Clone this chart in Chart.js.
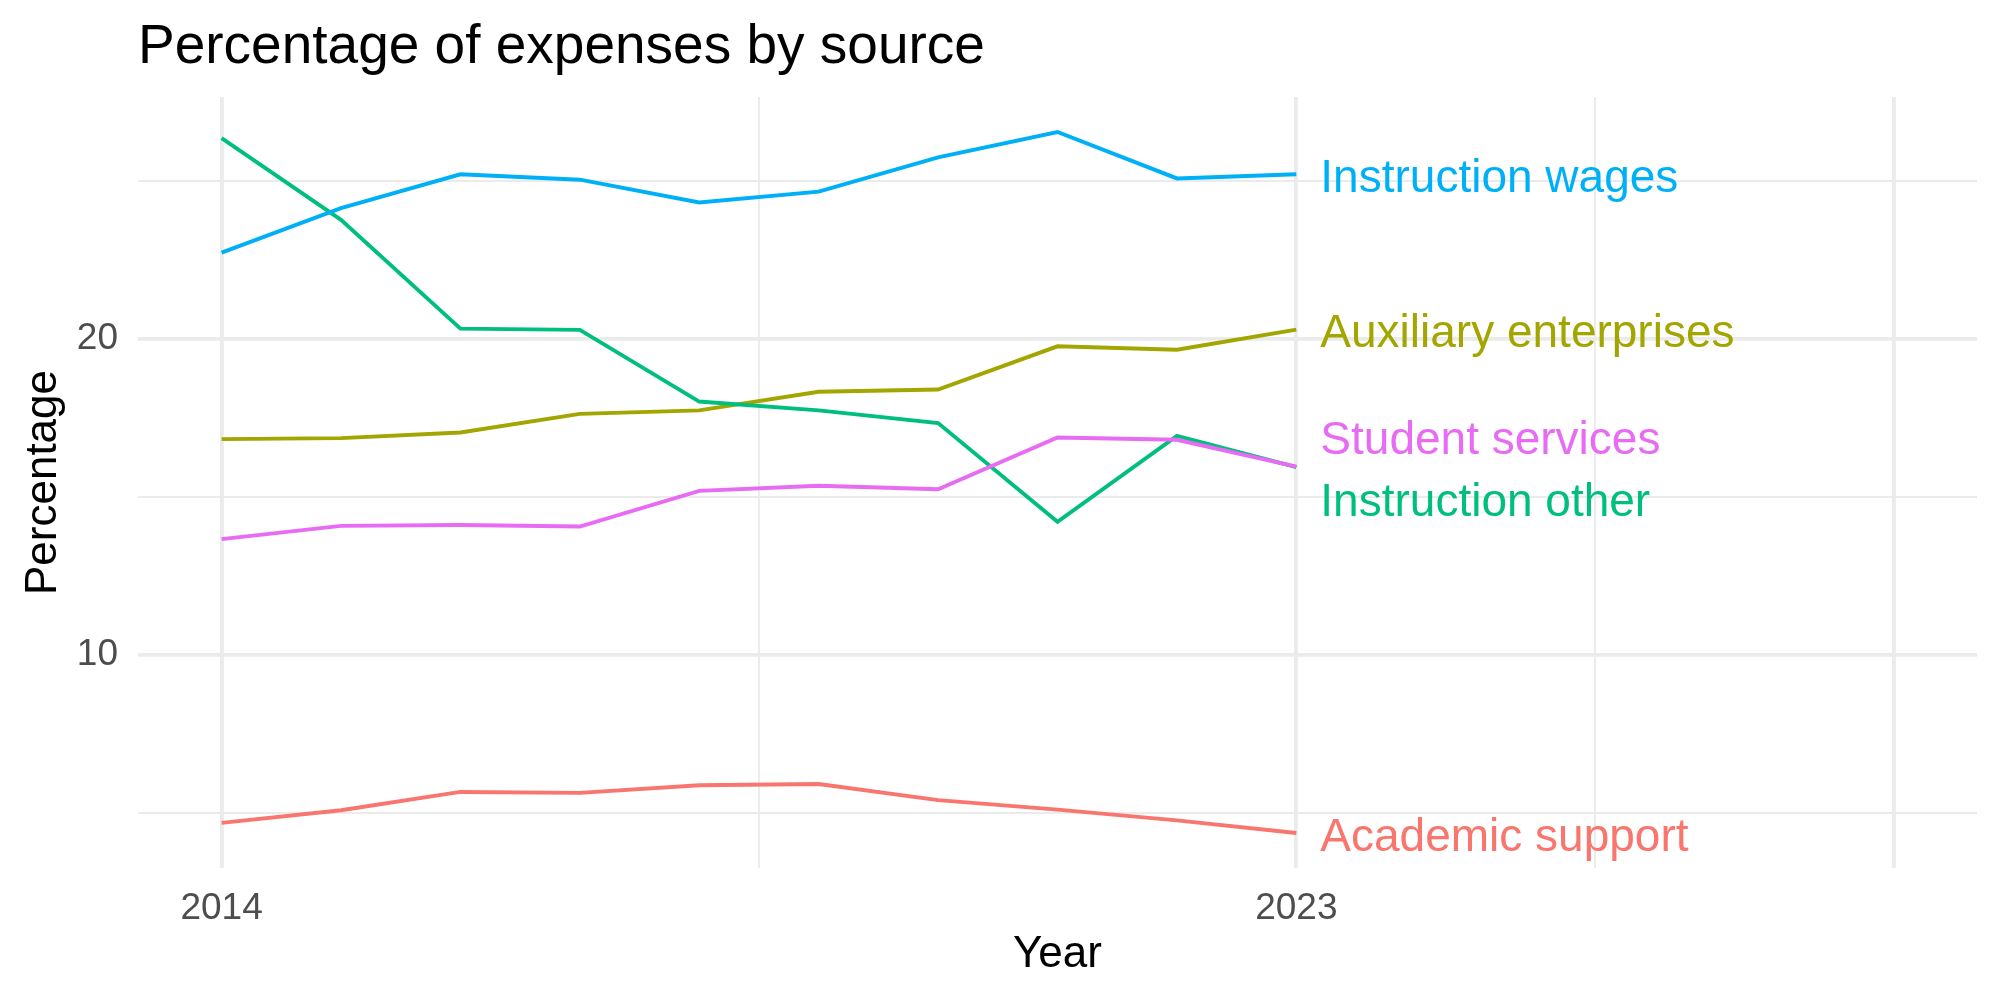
<!DOCTYPE html>
<html>
<head>
<meta charset="utf-8">
<script src="https://cdn.jsdelivr.net/npm/chart.js@4.4.1/dist/chart.umd.min.js"></script>
<style>
   html, body { margin: 0; padding: 0; background: #fff; }
   #wrap { width: 2000px; height: 1000px; position: relative; }
</style>
</head>
<body>
<div id="wrap"><canvas id="expChart"></canvas></div>
<script>
const years = [2014, 2015, 2016, 2017, 2018, 2019, 2020, 2021, 2022, 2023];

const academicSupport = [4.67, 5.07, 5.65, 5.62, 5.86, 5.90, 5.39, 5.09, 4.75, 4.35];
const auxiliaryEnterprises = [16.83, 16.86, 17.04, 17.63, 17.74, 18.33, 18.40, 19.77, 19.66, 20.30];
const instructionOther = [26.37, 23.78, 20.33, 20.29, 18.02, 17.74, 17.34, 14.21, 16.93, 15.94];
const instructionWages = [22.74, 24.15, 25.22, 25.05, 24.33, 24.67, 25.76, 26.56, 25.09, 25.22];
const studentServices = [13.66, 14.08, 14.11, 14.06, 15.19, 15.35, 15.24, 16.88, 16.81, 15.96];

const seriesNames = ["Academic support", "Auxiliary enterprises", "Instruction other", "Instruction wages", "Student services"];
const seriesValues = [academicSupport, auxiliaryEnterprises, instructionOther, instructionWages, studentServices];
const seriesColors = ["#F8766D", "#A3A500", "#00BF7D", "#00B0F6", "#E76BF3"];

const xMajorBreaks = [2014, 2023, 2028];
const xMinorBreaks = [2018.5, 2025.5];
const xTickLabels = [2014, 2023];
const yMajorBreaks = [10, 20];
const yMinorBreaks = [5, 15, 25];

const FONT = "'Liberation Sans', Arial, Helvetica, sans-serif";
const GRID = "#EBEBEB";

// end labels, nudged apart like ggrepel does
const endLabels = {
   id: "endLabels",
   afterDatasetsDraw(chart) {
      const { ctx, scales: { x, y } } = chart;
      const items = seriesNames.map((name, i) => ({
         name,
         color: seriesColors[i],
         py: y.getPixelForValue(seriesValues[i][seriesValues[i].length - 1]),
      }));
      items.sort((a, b) => a.py - b.py);
      const gap = 62;
      for (let it = 0; it < 50; it++) {
         for (let k = 1; k < items.length; k++) {
            const d = items[k].py - items[k - 1].py;
            if (d < gap) {
               const push = (gap - d) / 2;
               items[k - 1].py -= push;
               items[k].py += push;
            }
         }
      }
      const px = x.getPixelForValue(years[years.length - 1]) + 24;
      ctx.save();
      ctx.font = `46px ${FONT}`;
      ctx.textAlign = "left";
      ctx.textBaseline = "middle";
      items.forEach(it => {
         ctx.fillStyle = it.color;
         ctx.fillText(it.name, px, it.py + 5);
      });
      ctx.restore();
   },
};

const ctx = document.getElementById("expChart").getContext("2d");
new Chart(ctx, {
   type: "line",
   data: {
      datasets: seriesNames.map((name, i) => ({
         label: name,
         data: years.map((yr, j) => ({ x: yr, y: seriesValues[i][j] })),
         borderColor: seriesColors[i],
         backgroundColor: seriesColors[i],
         borderWidth: 3.9,
         pointRadius: 0,
         tension: 0,
         fill: false,
         order: seriesNames.length - i,
      })),
   },
   options: {
      responsive: true,
      maintainAspectRatio: false,
      animation: false,
      layout: { padding: { left: 0, right: 23, top: 0, bottom: 0 } },
      plugins: {
         legend: { display: false },
         tooltip: { enabled: false },
         title: {
            display: true,
            text: "Percentage of expenses by source",
            align: "start",
            fullSize: false,
            color: "#000",
            font: { family: FONT, size: 55, weight: "normal" },
            padding: { top: 15, bottom: 16 },
         },
      },
      scales: {
         x: {
            type: "linear",
            min: 2013.3,
            max: 2028.7,
            afterBuildTicks: s => {
               s.ticks = [...xMajorBreaks, ...xMinorBreaks].sort((a, b) => a - b).map(v => ({ value: v }));
            },
            afterFit: s => { s.height = 132; },
            border: { display: false },
            grid: {
               color: GRID,
               drawTicks: false,
               lineWidth: c => (xMajorBreaks.includes(c.tick.value) ? 3.8 : 1.9),
            },
            ticks: {
               autoSkip: false,
               maxRotation: 0,
               padding: 19,
               color: "#4D4D4D",
               font: { family: FONT, size: 37 },
               callback: v => (xTickLabels.includes(v) ? String(v) : ""),
            },
            title: {
               display: true,
               text: "Year",
               color: "#000",
               font: { family: FONT, size: 44 },
               padding: { top: 0, bottom: 19 },
            },
         },
         y: {
            type: "linear",
            min: 3.24,
            max: 27.67,
            afterBuildTicks: s => {
               s.ticks = [...yMinorBreaks, ...yMajorBreaks].sort((a, b) => a - b).map(v => ({ value: v }));
            },
            afterFit: s => { s.width = 138; },
            border: { display: false },
            grid: {
               color: GRID,
               drawTicks: false,
               lineWidth: c => (yMajorBreaks.includes(c.tick.value) ? 3.8 : 1.9),
            },
            ticks: {
               padding: 20,
               color: "#4D4D4D",
               font: { family: FONT, size: 37 },
               callback: v => (yMajorBreaks.includes(v) ? String(v) : ""),
            },
            title: {
               display: true,
               text: "Percentage",
               color: "#000",
               font: { family: FONT, size: 44 },
               padding: { top: 17, bottom: 0 },
            },
         },
      },
   },
   plugins: [endLabels],
});
</script>
</body>
</html>
